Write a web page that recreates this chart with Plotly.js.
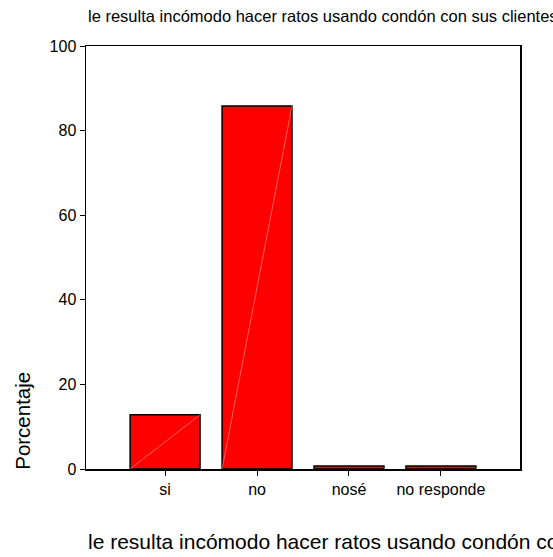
<!DOCTYPE html>
<html>
<head>
<meta charset="utf-8">
<script src="https://cdn.plot.ly/plotly-3.0.1.min.js"></script>
<style>html,body{margin:0;padding:0;background:#fff;}#chart{width:553px;height:557px;}</style>
</head>
<body>
<div id="chart"></div>
<script>
const categories = ["si", "no", "nosé", "no responde"];
const percentages = [12.8, 85.8, 0.7, 0.7];
const yTickValues = [0, 20, 40, 60, 80, 100];
const titleText = "le resulta incómodo hacer ratos usando condón con sus clientes";
const yTitleText = "Porcentaje";

const barWidth = 0.76;
const xIdx = categories.map((c, i) => i);

const bars = {
  type: "bar",
  x: xIdx,
  y: percentages,
  width: barWidth,
  marker: {color: "#ff0000", line: {color: "#000000", width: 1.5}},
  hoverinfo: "skip"
};

// faint diagonal rendering streak seen inside the bars
const diagX = [], diagY = [];
percentages.forEach((v, i) => {
  if (v > 5) {
    diagX.push(i - barWidth / 2, i + barWidth / 2, null);
    diagY.push(0, v, null);
  }
});
const streaks = {
  type: "scatter",
  mode: "lines",
  x: diagX,
  y: diagY,
  line: {color: "rgba(255,190,190,0.7)", width: 0.7},
  hoverinfo: "skip"
};

const layout = {
  width: 553,
  height: 557,
  margin: {l: 86, r: 33, t: 46, b: 88},
  paper_bgcolor: "#ffffff",
  plot_bgcolor: "#ffffff",
  showlegend: false,
  font: {family: "Liberation Sans, Arial, sans-serif", size: 16, color: "#000"},
  xaxis: {
    range: [-0.86, 3.86],
    tickvals: xIdx,
    ticktext: categories,
    ticks: "outside",
    ticklen: 5,
    tickwidth: 1,
    tickcolor: "#000",
    showline: true,
    linecolor: "#000",
    linewidth: 1.5,
    mirror: true,
    showgrid: false,
    zeroline: false,
    fixedrange: true,
    tickfont: {size: 16}
  },
  yaxis: {
    range: [0, 100],
    tickvals: yTickValues,
    ticks: "outside",
    ticklen: 5,
    tickwidth: 1,
    tickcolor: "#000",
    showline: true,
    linecolor: "#000",
    linewidth: 1.5,
    mirror: true,
    showgrid: false,
    zeroline: false,
    fixedrange: true,
    tickfont: {size: 16}
  },
  annotations: [
    {text: titleText, xref: "paper", yref: "paper", x: 0, xanchor: "left", y: 1, yanchor: "middle", yshift: 30, showarrow: false, font: {size: 16.5}},
    {text: titleText, xref: "paper", yref: "paper", x: 0, xanchor: "left", y: 0, yanchor: "middle", yshift: -72, showarrow: false, font: {size: 21}},
    {text: yTitleText, xref: "paper", yref: "paper", x: 0, xanchor: "center", xshift: -63, y: 0.114, yanchor: "middle", textangle: -90, showarrow: false, font: {size: 20.5}}
  ]
};

Plotly.newPlot("chart", [bars, streaks], layout, {displayModeBar: false, staticPlot: true});
</script>
</body>
</html>
